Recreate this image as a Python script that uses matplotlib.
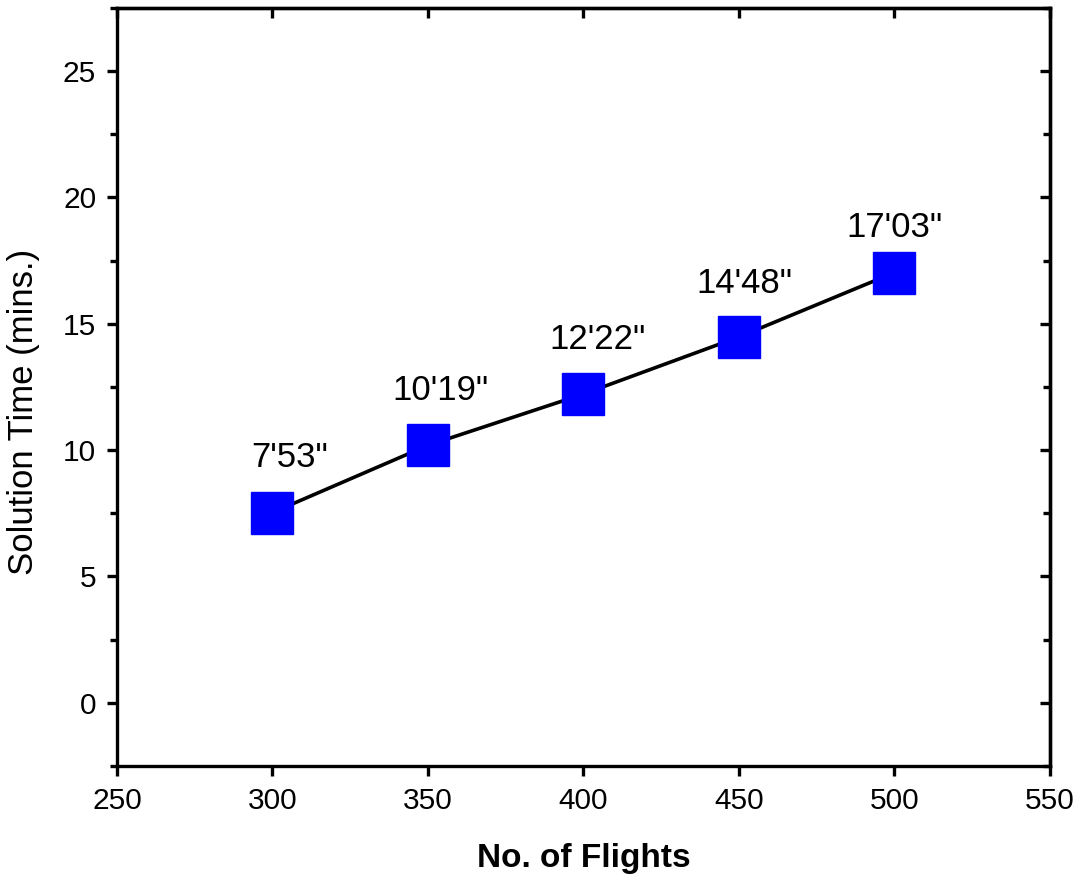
import numpy as np
import matplotlib
matplotlib.use("Agg")
import matplotlib.pyplot as plt
from matplotlib.ticker import MultipleLocator

plt.rcParams['font.family'] = ['Liberation Sans', 'DejaVu Sans']

# data: solution time plotted as min.sec decimals
flights = [300, 350, 400, 450, 500]
sol_time = [7.53, 10.19, 12.22, 14.48, 17.03]
labels = ["7'53\"", "10'19\"", "12'22\"", "14'48\"", "17'03\""]
# label anchor points (data coords)
label_x = [305.6, 353.9, 404.5, 451.6, 500.1]
label_y = [9.34, 11.99, 14.0, 16.22, 18.43]

fig = plt.figure(figsize=(10.83, 8.76), dpi=100)
ax = fig.add_axes([0.108, 0.1256, 0.8615, 0.8653])

ax.plot(flights, sol_time, color='black', lw=2.6, marker='s', ms=30,
        mfc='#0000ff', mec='#0000ff', zorder=3)

for lx, ly, t in zip(label_x, label_y, labels):
    ax.text(lx, ly, t, fontsize=25, ha='center', va='baseline')

ax.set_xlim(250, 550)
ax.set_ylim(-2.5, 27.5)
ax.xaxis.set_major_locator(MultipleLocator(50))
ax.yaxis.set_major_locator(MultipleLocator(5))
ax.yaxis.set_minor_locator(MultipleLocator(2.5))

for s in ax.spines.values():
    s.set_linewidth(2.4)

ax.tick_params(axis='both', which='major', direction='out', length=7, width=2.4,
               labelsize=21.5)
ax.tick_params(axis='x', which='major', pad=8)
ax.tick_params(axis='y', which='major', pad=8)
ax.tick_params(axis='y', which='minor', direction='out', length=5, width=2.4)
# inward ticks on top and right
ax2 = ax.secondary_xaxis('top')
ax2.xaxis.set_major_locator(MultipleLocator(50))
ax2.tick_params(direction='in', length=7, width=2.4, labeltop=False)
ax3 = ax.secondary_yaxis('right')
ax3.yaxis.set_major_locator(MultipleLocator(5))
ax3.yaxis.set_minor_locator(MultipleLocator(2.5))
ax3.tick_params(which='major', direction='in', length=7, width=2.4, labelright=False)
ax3.tick_params(which='minor', direction='in', length=5, width=2.4)
for a in (ax2, ax3):
    for s in a.spines.values():
        s.set_linewidth(2.4)

ax.set_xlabel('No. of Flights', fontsize=24, fontweight='bold', labelpad=20)
ax.set_ylabel('Solution Time (mins.)', fontsize=25)
ax.yaxis.set_label_coords(-0.082, 0.467)

fig.savefig('out.png', dpi=100)
